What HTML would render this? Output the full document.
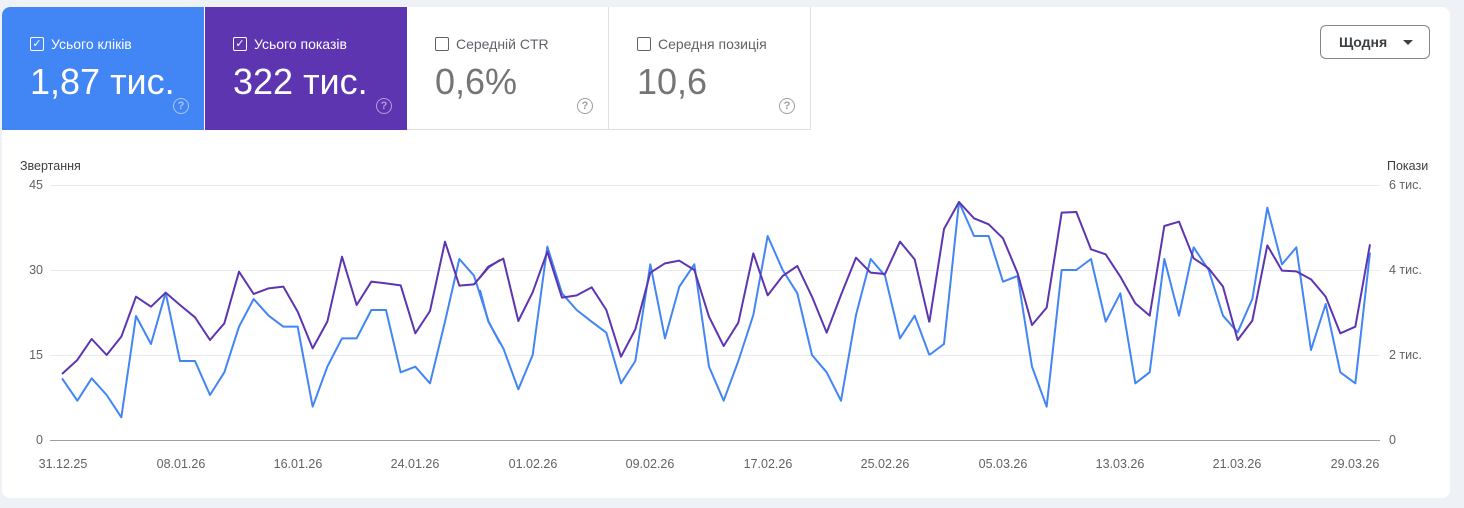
<!DOCTYPE html>
<html><head><meta charset="utf-8"><style>
body{margin:0;width:1464px;height:508px;background:#eef1f5;font-family:"Liberation Sans",sans-serif;overflow:hidden;position:relative}
.card{position:absolute;left:2px;top:7px;width:1448px;height:491px;background:#fff;border-radius:8px;overflow:hidden}
.tile{position:absolute;top:0;height:123px;width:202px;box-sizing:border-box}
.lab{position:absolute;left:28px;top:29px;font-size:14px;display:flex;align-items:center}
.cb{width:12px;height:12px;border:1.5px solid;border-radius:2px;margin-right:7px;display:inline-flex;align-items:center;justify-content:center;font-size:11px;line-height:1}
.val{position:absolute;left:28px;top:54px;font-size:36px}
.q{position:absolute;right:15px;top:91px;width:14px;height:14px;border:1.5px solid;border-radius:50%;font-size:11px;text-align:center;line-height:14px;font-weight:bold}
.t{position:absolute;font-size:12.5px;color:#5f6368}
</style></head><body>
<div class="card">
 <div class="tile" style="left:0;background:#4285f4;color:#fff;border-top-left-radius:8px"><div class="lab"><span class="cb" style="border-color:#fff">✓</span>Усього кліків</div><div class="val">1,87 тис.</div><div class="q" style="color:#a8c7fa;border-color:#a8c7fa">?</div></div>
 <div class="tile" style="left:203px;background:#5e35b1;color:#fff"><div class="lab"><span class="cb" style="border-color:#fff">✓</span>Усього показів</div><div class="val">322 тис.</div><div class="q" style="color:#b39ddb;border-color:#b39ddb">?</div></div>
 <div class="tile" style="left:405px;color:#5f6368;border-right:1px solid #e0e0e0;border-bottom:1px solid #e0e0e0"><div class="lab"><span class="cb" style="border-color:#5f6368"></span>Середній CTR</div><div class="val" style="color:#757575">0,6%</div><div class="q" style="color:#9e9e9e;border-color:#9e9e9e">?</div></div>
 <div class="tile" style="left:607px;color:#5f6368;border-right:1px solid #e0e0e0;border-bottom:1px solid #e0e0e0"><div class="lab"><span class="cb" style="border-color:#5f6368"></span>Середня позиція</div><div class="val" style="color:#757575">10,6</div><div class="q" style="color:#9e9e9e;border-color:#9e9e9e">?</div></div>
 <div style="position:absolute;left:1318px;top:18px;width:110px;height:34px;border:1px solid #80868b;border-radius:6px;box-sizing:border-box;font-size:14px;font-weight:bold;color:#3c4043;line-height:32px;padding-left:18px">Щодня<span style="position:absolute;right:16px;top:14px;border:5px solid transparent;border-top:5px solid #3c4043;border-bottom:0"></span></div>
</div>
<div class="t" style="left:20px;top:159px;color:#3c4043">Звертання</div>
<div class="t" style="left:1387px;top:159px;color:#3c4043">Покази</div>
<div class="t" style="left:20px;top:178px;width:23px;text-align:right">45</div>
<div class="t" style="left:20px;top:263px;width:23px;text-align:right">30</div>
<div class="t" style="left:20px;top:348px;width:23px;text-align:right">15</div>
<div class="t" style="left:20px;top:433px;width:23px;text-align:right">0</div>
<div class="t" style="left:1389px;top:178px">6 тис.</div>
<div class="t" style="left:1389px;top:263px">4 тис.</div>
<div class="t" style="left:1389px;top:348px">2 тис.</div>
<div class="t" style="left:1389px;top:433px">0</div>
<svg width="1464" height="508" style="position:absolute;left:0;top:0">
<g stroke="#e8eaed" stroke-width="1"><line x1="50" x2="1380" y1="185.5" y2="185.5"/><line x1="50" x2="1380" y1="270.5" y2="270.5"/><line x1="50" x2="1380" y1="355.5" y2="355.5"/></g>
<line x1="50" x2="1380" y1="440.5" y2="440.5" stroke="#9aa0a6"/>
<g font-size="12.5" fill="#5f6368" text-anchor="middle" font-family="Liberation Sans">
<text x="63" y="468">31.12.25</text><text x="181" y="468">08.01.26</text><text x="298" y="468">16.01.26</text><text x="415" y="468">24.01.26</text><text x="533" y="468">01.02.26</text><text x="650" y="468">09.02.26</text><text x="768" y="468">17.02.26</text><text x="885" y="468">25.02.26</text><text x="1003" y="468">05.03.26</text><text x="1120" y="468">13.03.26</text><text x="1237" y="468">21.03.26</text><text x="1355" y="468">29.03.26</text>
</g>
<g fill="none" stroke-width="2" stroke-linejoin="round">
<g transform="translate(40,180) scale(0.33333)"><polyline vector-effect="non-scaling-stroke" stroke="#4285f4" points="66,595 112,662 155,595 200,645 244,712 288,408 333,492 377,338 420,543 465,543 510,645 553,577 597,440 641,357 686,407 730,440 773,440 818,680 862,560 906,475 950,475 994,390 1038,390 1082,577 1126,560 1170,610 1215,425 1258,237 1302,287 1346,425 1380,490"/>
<polyline vector-effect="non-scaling-stroke" stroke="#5e35b1" points="66,582 112,540 155,477 200,525 244,470 288,350 333,380 377,338 420,375 465,412 510,480 553,430 597,275 641,342 686,325 730,320 773,395 818,505 862,425 906,230 950,375 994,305 1038,310 1082,316 1126,460 1170,393 1215,185 1258,317 1302,313 1346,262 1380,240"/></g>
<g transform="translate(480,180) scale(0.33333)"><polyline vector-effect="non-scaling-stroke" stroke="#4285f4" points="0,330 25,425 70,505 115,628 158,525 202,200 246,340 290,390 335,425 379,458 423,610 466,543 511,253 555,475 598,320 643,253 687,560 731,662 775,543 820,405 863,168 908,270 952,340 996,525 1040,577 1083,662 1128,405 1172,237 1215,287 1260,475 1304,407 1348,525"/>
<polyline vector-effect="non-scaling-stroke" stroke="#5e35b1" points="0,292 25,260 70,236 115,423 158,337 202,215 246,353 290,346 335,322 379,390 423,530 466,448 511,278 555,250 598,242 643,270 687,410 731,498 775,428 820,220 863,346 908,288 952,258 996,350 1040,458 1083,345 1128,233 1172,278 1215,282 1260,185 1304,238 1348,427"/></g>
<g transform="translate(920,180) scale(0.33333)"><polyline vector-effect="non-scaling-stroke" stroke="#4285f4" points="28,525 72,492 117,66 162,168 206,168 249,305 293,288 336,560 380,680 425,270 469,270 513,237 557,425 601,340 646,610 689,577 733,237 777,407 821,202 866,270 909,407 953,457 997,357 1042,83 1086,253 1129,202 1173,510 1217,372 1261,577 1306,610 1350,218"/>
<polyline vector-effect="non-scaling-stroke" stroke="#5e35b1" points="28,427 72,147 117,66 162,115 206,133 249,175 293,280 336,435 380,383 425,98 469,96 513,208 557,223 601,290 646,370 689,407 733,138 777,125 821,235 866,265 909,320 953,480 997,422 1042,196 1086,272 1129,274 1173,298 1217,350 1261,460 1306,440 1350,193"/></g>
</g>
</svg>
</body></html>
